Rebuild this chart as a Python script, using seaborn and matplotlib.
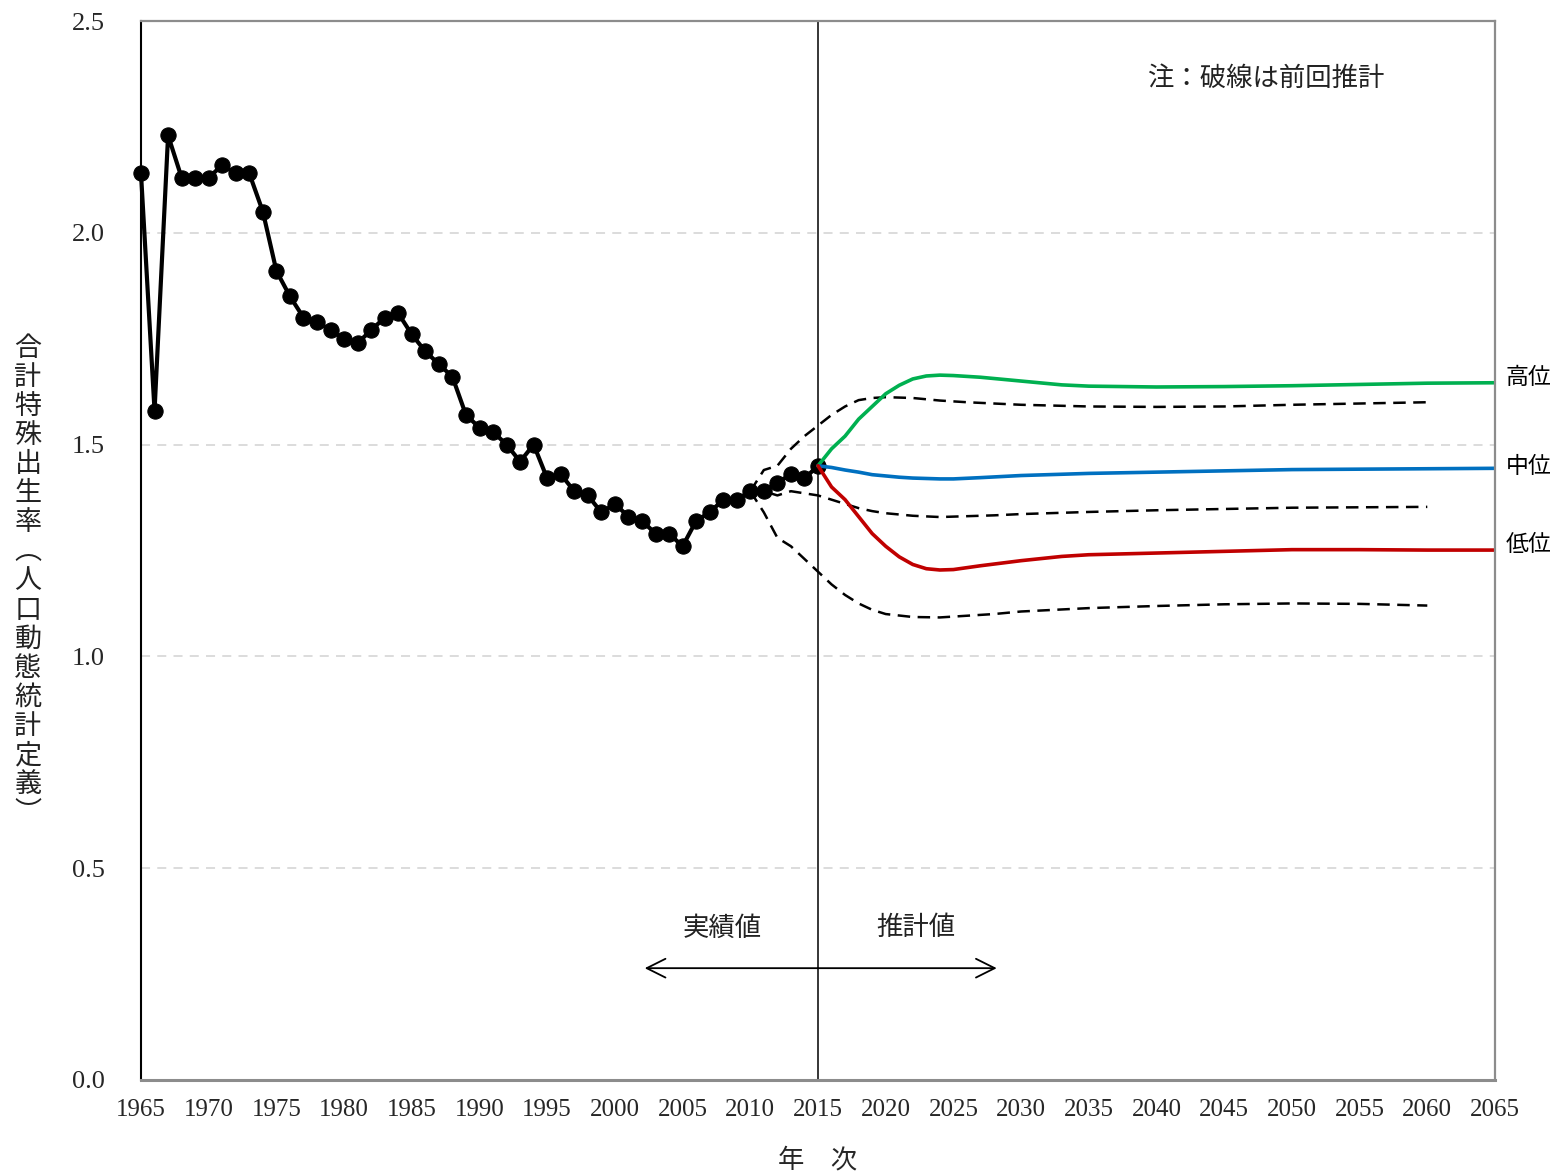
import matplotlib
matplotlib.use("Agg")
import matplotlib.pyplot as plt
import seaborn as sns
import pandas as pd

# ---------------- data ----------------
hist_years = list(range(1965, 2016))
hist_tfr = [2.14, 1.58, 2.23, 2.13, 2.13, 2.13, 2.16, 2.14, 2.14, 2.05,
            1.91, 1.85, 1.80, 1.79, 1.77, 1.75, 1.74, 1.77, 1.80, 1.81,
            1.76, 1.72, 1.69, 1.66, 1.57, 1.54, 1.53, 1.50, 1.46, 1.50,
            1.42, 1.43, 1.39, 1.38, 1.34, 1.36, 1.33, 1.32, 1.29, 1.29,
            1.26, 1.32, 1.34, 1.37, 1.37, 1.39, 1.39, 1.41, 1.43, 1.42,
            1.45]

proj_years = [2015, 2016, 2017, 2018, 2019, 2020, 2021, 2022, 2023, 2024,
              2025, 2027, 2030, 2033, 2035, 2040, 2045, 2050, 2055, 2060, 2065]
proj_high = [1.45, 1.49, 1.52, 1.56, 1.59, 1.62, 1.64, 1.655, 1.662, 1.664,
             1.663, 1.659, 1.650, 1.641, 1.638, 1.636, 1.637, 1.639, 1.642, 1.645, 1.646]
proj_mid = [1.45, 1.446, 1.440, 1.435, 1.429, 1.426, 1.423, 1.421, 1.420, 1.419,
            1.419, 1.422, 1.427, 1.430, 1.432, 1.435, 1.438, 1.441, 1.442, 1.443, 1.444]
proj_low = [1.45, 1.40, 1.37, 1.33, 1.29, 1.26, 1.235, 1.217, 1.207, 1.204,
            1.205, 1.214, 1.226, 1.236, 1.240, 1.244, 1.248, 1.252, 1.252, 1.251, 1.251]

prev_years = [2010, 2011, 2012, 2013, 2014, 2015, 2016, 2017, 2018, 2019,
              2020, 2022, 2024, 2026, 2028, 2030, 2035, 2040, 2045, 2050, 2055, 2060]
prev_high = [1.39, 1.44, 1.45, 1.49, 1.52, 1.545, 1.57, 1.59, 1.605, 1.61,
             1.612, 1.610, 1.604, 1.600, 1.597, 1.594, 1.590, 1.589, 1.590, 1.594, 1.597, 1.600]
prev_mid = [1.39, 1.39, 1.38, 1.39, 1.385, 1.38, 1.37, 1.36, 1.35, 1.343,
            1.338, 1.332, 1.329, 1.331, 1.333, 1.336, 1.341, 1.345, 1.348, 1.351, 1.352, 1.353]
prev_low = [1.39, 1.34, 1.28, 1.26, 1.23, 1.20, 1.17, 1.145, 1.125, 1.11,
            1.10, 1.093, 1.092, 1.096, 1.100, 1.106, 1.114, 1.119, 1.123, 1.125, 1.124, 1.120]

variant_labels = ["高位", "中位", "低位"]
variant_colors = ["#00B050", "#0070C0", "#C00000"]
x_ticks = list(range(1965, 2066, 5))
y_ticks = [0.0, 0.5, 1.0, 1.5, 2.0, 2.5]

# ---------------- figure ----------------
sns.set_theme(style="white")
plt.rcParams['font.family'] = ['Noto Sans CJK JP', 'DejaVu Sans']

fig = plt.figure(figsize=(15.53, 11.74), dpi=100)
ax = fig.add_axes([141 / 1553, 1 - 1080 / 1174, (1495 - 141) / 1553, (1080 - 21) / 1174])

ax.set_xlim(1965, 2065)
ax.set_ylim(0, 2.5)

# grid
for yv in y_ticks[1:-1]:
    ax.axhline(yv, color="#d9d9d9", lw=1.3, ls=(0, (5, 4)), zorder=0)

# previous projections (dashed)
for vals in (prev_high, prev_mid, prev_low):
    sns.lineplot(x=prev_years, y=vals, ax=ax, color="black", lw=1.8,
                 linestyle=(0, (5, 3)), zorder=2, legend=False)

# vertical line at 2015
ax.axvline(2015, color="black", lw=1.1, zorder=3)

# historical
sns.lineplot(x=hist_years, y=hist_tfr, ax=ax, color="black", lw=3.0,
             marker="o", markersize=11, markeredgecolor="black", zorder=4,
             legend=False, clip_on=False)

# current projections
for vals, col in zip((proj_high, proj_mid, proj_low), variant_colors):
    sns.lineplot(x=proj_years, y=vals, ax=ax, color=col, lw=2.6, zorder=5,
                 legend=False)

# variant labels
for lab, vals, dy in zip(variant_labels, (proj_high, proj_mid, proj_low), (0.013, 0.005, 0.012)):
    ax.text(2065.8, vals[-1] + dy, lab, fontsize=16.5, va="center", ha="left",
            clip_on=False, color="black")

# note
ax.text(2039.3, 2.365, "注：破線は前回推計", fontsize=19, va="center", ha="left",
        color="#222222")

# arrows and labels
ax.annotate("", xy=(2002.2, 0.264), xytext=(2015, 0.264),
            arrowprops=dict(arrowstyle="->,head_length=0.9,head_width=0.45",
                            color="black", lw=1.3, mutation_scale=15,
                            shrinkA=0, shrinkB=0))
ax.annotate("", xy=(2028.2, 0.264), xytext=(2015, 0.264),
            arrowprops=dict(arrowstyle="->,head_length=0.9,head_width=0.45",
                            color="black", lw=1.3, mutation_scale=15,
                            shrinkA=0, shrinkB=0))
ax.text(2007.9, 0.359, "実績値", fontsize=19, ha="center", va="center", color="#222222")
ax.text(2022.2, 0.359, "推計値", fontsize=19, ha="center", va="center", color="#222222")

# ticks
ax.set_xticks(x_ticks)
ax.set_xticklabels([str(v) for v in x_ticks], fontfamily="Liberation Serif", fontsize=18)
ax.set_yticks(y_ticks)
ax.set_yticklabels([f"{v:.1f}" for v in y_ticks], fontfamily="Liberation Serif", fontsize=19)
ax.tick_params(axis="x", direction="in", length=6, width=0.9, color="#888888", pad=14)
ax.tick_params(axis="y", direction="in", length=7, width=1.2, color="black", pad=26)

# spines
for side in ("top", "right", "bottom"):
    ax.spines[side].set_color("#8c8c8c")
ax.spines["top"].set_linewidth(1.6)
ax.spines["right"].set_linewidth(1.6)
ax.spines["bottom"].set_linewidth(2.2)
ax.spines["left"].set_color("black")
ax.spines["left"].set_linewidth(1.5)
for s in ax.spines.values():
    s.set_zorder(6)

# axis labels
ax.set_xlabel("年　次", fontsize=19, labelpad=18)
ylabel_chars = "合計特殊出生率︵人口動態統計定義︶"
fig.text(28 / 1553, 1 - 581 / 1174, "\n".join(ylabel_chars), fontsize=19.5,
         ha="center", va="center", linespacing=1.1, color="#222222")

fig.savefig("out.png", dpi=100)
